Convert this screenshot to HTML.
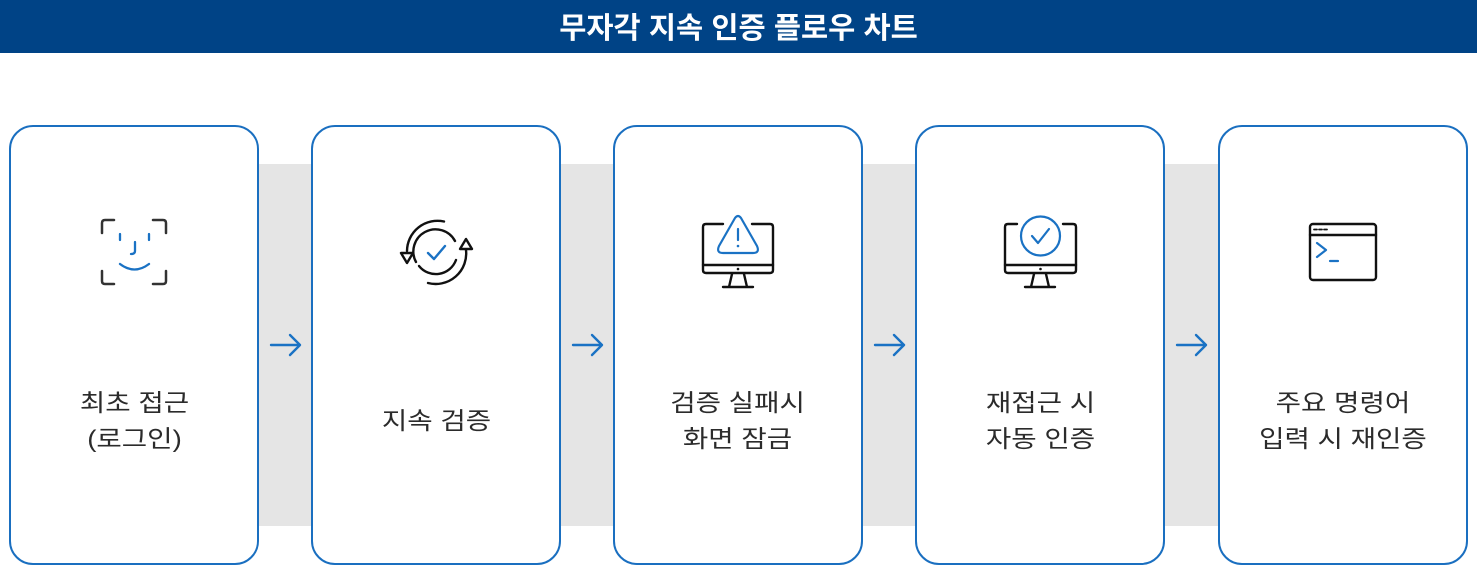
<!DOCTYPE html>
<html><head><meta charset="utf-8">
<style>
*{margin:0;padding:0;box-sizing:border-box}
html,body{width:1477px;height:566px;background:#fff;overflow:hidden}
body{position:relative;font-family:"Liberation Sans","Noto Sans CJK KR",sans-serif}
.hdr{position:absolute;left:0;top:0;width:1477px;height:53px;background:#004386;color:#fff;font-size:29.5px;font-weight:bold;text-align:center;line-height:53px}
.hdr span{position:relative;top:2px}
.band{position:absolute;left:258px;top:164px;width:962px;height:362px;background:#e5e5e5}
.card{position:absolute;top:125px;width:250px;height:440px;border:2px solid #1a6fc0;border-radius:24px;background:#fff}
.lbl{position:absolute;left:0;width:100%;top:255px;height:80px;display:flex;align-items:center;justify-content:center;text-align:center;font-size:24px;line-height:36px;color:#2b2b2b}
.lbl span{display:inline-block;transform:scaleX(1.15);white-space:nowrap}
svg.ov{position:absolute;left:0;top:0}
</style></head><body>
<div class="hdr"><span>무자각 지속 인증 플로우 차트</span></div>
<div class="band"></div>
<div class="card" style="left:9px"><div class="lbl"><span>최초 접근<br>(로그인)</span></div></div>
<div class="card" style="left:311px"><div class="lbl"><span>지속 검증</span></div></div>
<div class="card" style="left:613px"><div class="lbl"><span>검증 실패시<br>화면 잠금</span></div></div>
<div class="card" style="left:915px"><div class="lbl"><span>재접근 시<br>자동 인증</span></div></div>
<div class="card" style="left:1218px"><div class="lbl"><span>주요 명령어<br>입력 시 재인증</span></div></div>

<svg class="ov" width="1477" height="566" viewBox="0 0 1477 566" fill="none" stroke-linecap="round" stroke-linejoin="round">
<!-- arrows -->
<g stroke="#1a72c4" stroke-width="2.4">
<path d="M271 345H300M290 335L300 345L290 355"/>
<path d="M573 345H602M592 335L602 345L592 355"/>
<path d="M875 345H904M894 335L904 345L894 355"/>
<path d="M1177 345H1206M1196 335L1206 345L1196 355"/>
</g>
<!-- face id -->
<g stroke="#333" stroke-width="2.5">
<path d="M102 233V223Q102 220 105 220H114"/>
<path d="M153 220H163Q166 220 166 223V233"/>
<path d="M102 271V281Q102 284 105 284H114"/>
<path d="M153 284H163Q166 284 166 281V271"/>
</g>
<g stroke="#1a72c4" stroke-width="2.3">
<path d="M120 234V240M149 234V240"/>
<path d="M135 242V251Q135 254 131 254"/>
<path d="M120 264Q134.5 275 149 264"/>
</g>
<!-- refresh -->
<g stroke="#111" stroke-width="2.4">
<path d="M444 221.5A30.5 30.5 0 0 0 407 251"/>
<path d="M401 253L413 253L407 263Z" fill="#fff"/>
<path d="M428 283A30.5 30.5 0 0 0 466 250"/>
<path d="M460 249L472 249L466 239Z" fill="#fff"/>
<path d="M416 262A21.5 21.5 0 0 1 455 241"/>
<path d="M456 260A21.5 21.5 0 0 1 419 266"/>
</g>
<path d="M428 253L434 259L445 246" stroke="#1a72c4" stroke-width="2.4"/>
<!-- monitor warning -->
<g stroke="#111" stroke-width="2.4">
<path d="M723 224H706Q703 224 703 227V270Q703 273 706 273H770Q773 273 773 270V227Q773 224 770 224H752"/>
<path d="M703 265H773"/>
<path d="M732 274L729 287M744 274L747 287M723 287H753"/>
</g>
<circle cx="738" cy="269" r="1.3" fill="#111"/>
<g stroke="#1a72c4" stroke-width="2.2">
<path d="M735 218Q738 214 741 218L757 246Q760 253 753 253H723Q716 253 719 246Z"/>
<path d="M738 229V240"/>
</g>
<circle cx="738" cy="246" r="1.3" fill="#1a72c4"/>
<!-- monitor check -->
<g stroke="#111" stroke-width="2.4">
<path d="M1017 224H1008Q1005 224 1005 227V270Q1005 273 1008 273H1073Q1076 273 1076 270V227Q1076 224 1073 224H1063"/>
<path d="M1005 265H1076"/>
<path d="M1034 274L1031 287M1046 274L1049 287M1025 287H1055"/>
</g>
<circle cx="1040.5" cy="269" r="1.3" fill="#111"/>
<g stroke="#1a72c4" stroke-width="2.2">
<circle cx="1040.5" cy="236" r="19.5"/>
<path d="M1032 236L1038 243L1049 229"/>
</g>
<!-- terminal -->
<g stroke="#111" stroke-width="2.4">
<rect x="1310" y="224" width="66" height="56" rx="3"/>
<path d="M1310 235H1376"/>
<path d="M1314 229.5H1317M1319 229.5H1322M1324 229.5H1327" stroke-width="1.8"/>
</g>
<g stroke="#1a72c4" stroke-width="2.2">
<path d="M1317 243L1326 250L1317 257"/>
<path d="M1330 261H1338"/>
</g>
</svg>
</body></html>
